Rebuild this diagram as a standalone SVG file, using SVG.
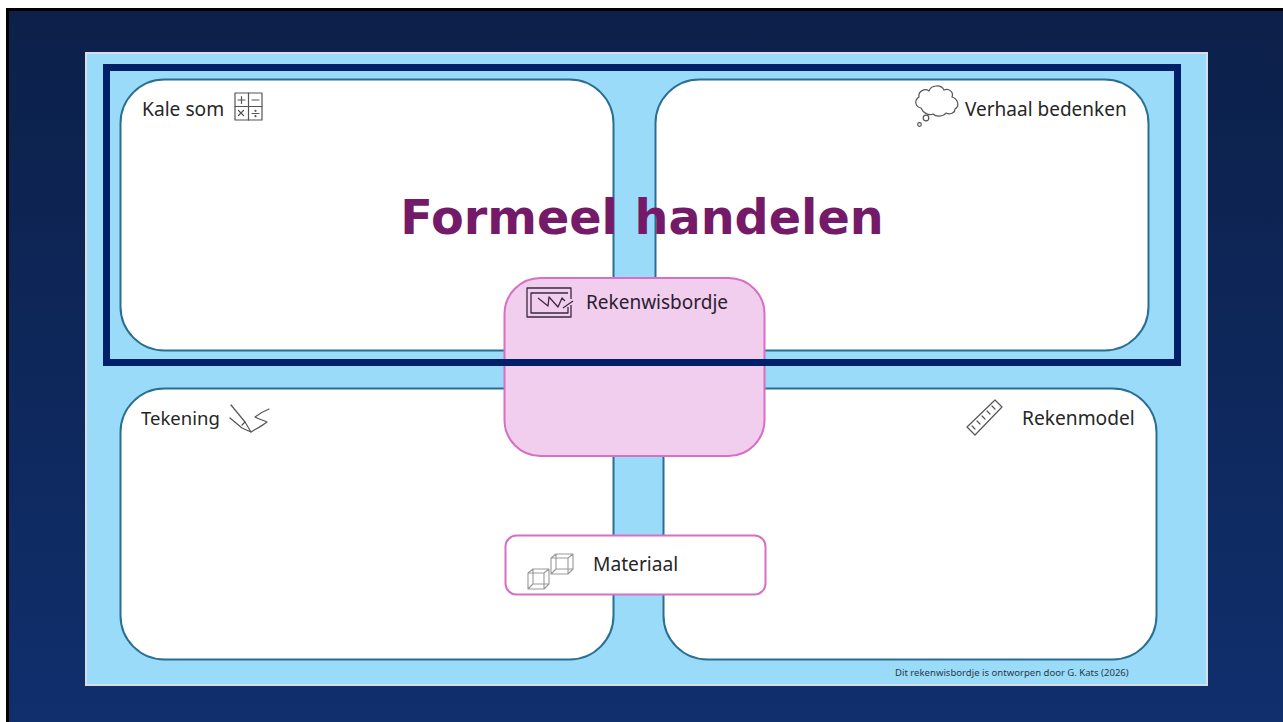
<svg xmlns="http://www.w3.org/2000/svg" width="1283" height="722" viewBox="0 0 1283 722">
<defs>
<linearGradient id="bg" x1="0" y1="0" x2="0" y2="1"><stop offset="0" stop-color="#0c2049"/><stop offset="1" stop-color="#102f6d"/></linearGradient>
</defs>
<style>
.card{fill:#fff;stroke:#2a6f92;stroke-width:2}
.pink{stroke:#d76fc4;stroke-width:2}
.lbl{font-family:"Noto Sans","Liberation Sans",sans-serif;font-size:19.200px;fill:#262626}
.ic{fill:none;stroke:#555;stroke-width:1.200;stroke-linejoin:round;stroke-linecap:round}
.ic2{fill:none;stroke:#999;stroke-width:1.100;stroke-linejoin:round}
</style>
<rect width="1283" height="722" fill="#fff"/>
<rect x="7.500" y="9.500" width="1280" height="718" fill="url(#bg)" stroke="#000" stroke-width="3"/>
<rect id="panel" x="86" y="53" width="1121" height="632" fill="#99dbf8" stroke="#d9dde8" stroke-width="2"/>
<g id="kale-som">
<rect class="card" x="120.500" y="79.500" width="493" height="271" rx="44"/>
<text class="lbl" x="142" y="116">Kale som</text>
<g class="ic"><rect x="235" y="93" width="27" height="27"/><path d="M248.500 93V120M235 106.500H262"/><path d="M238 100h7M241.500 96.500v7M252 100h7M238.500 110.500l5 5M243.500 110.500l-5 5M252 113.500h7"/><circle cx="255.500" cy="110.800" r=".5"/><circle cx="255.500" cy="116.200" r=".5"/></g>
</g>
<g id="verhaal-bedenken">
<rect class="card" x="655.500" y="79.500" width="493" height="271" rx="44"/>
<text class="lbl" x="965" y="116" style="font-size:19px">Verhaal bedenken</text>
<g class="ic"><path d="M921 108c-6-1-7-8-2-11c-1-6 6-9 10-6c2-6 12-7 15-1c5-2 10 2 8 7c6 2 8 9 3 12c0 4-5 6-9 4c-3 4-10 4-13 1c-4 2-10-1-12-6z"/><circle cx="926" cy="118" r="2.800"/><circle cx="919.500" cy="124.500" r="1.800"/></g>
</g>
<g id="tekening">
<rect class="card" x="120.500" y="388.500" width="493" height="271" rx="44"/>
<text class="lbl" x="141" y="425" style="font-size:18.500px">Tekening</text>
<g class="ic"><path d="M231 405L245 422l6 10-9-4L230 418"/><path d="M242 425l3-3M251 432c5-3 11-6 16-10c-4-2-9-3-12-5c4-3 9-6 14-8"/></g>
</g>
<g id="rekenmodel">
<rect class="card" x="663.500" y="388.500" width="493" height="271" rx="44"/>
<text class="lbl" x="1022" y="425">Rekenmodel</text>
<g class="ic"><path d="M967 427l28-27 7 7-27 28z"/><path d="M972 426l3 3M977 421l3 3M982 416l3 3M987 411l3 3M992 406l3 3"/></g>
</g>
<g id="rekenwisbordje">
<rect class="pink" x="504.500" y="278" width="260" height="178" rx="36" fill="#f1cdee"/>
</g>
<g id="materiaal">
<rect class="pink" x="505.500" y="535.500" width="260" height="59" rx="11" fill="#fff"/>
<text class="lbl" x="593" y="571">Materiaal</text>
<g class="ic2"><path d="M528 573l5-4h16v15l-5 5h-16zM528 573h16v16M544 573l5-4M533 569v15h16M533 584l-5 5"/><path d="M551 558l5-4h17v15l-5 5h-17zM551 558h17v16M568 558l5-4M556 554v15h17M556 569l-5 5"/></g>
</g>
<g id="formeel-handelen">
<rect x="106.500" y="67.500" width="1071" height="295" fill="none" stroke="#02206a" stroke-width="7"/>
<text x="642" y="234" text-anchor="middle" font-family="DejaVu Sans,Verdana,sans-serif" font-weight="700" font-size="47.700" fill="#751a68">Formeel handelen</text>
</g>
<g id="rekenwisbordje-label">
<text x="586" y="309" font-family="Noto Sans,Liberation Sans,sans-serif" font-size="19" fill="#2a2030">Rekenwisbordje</text>
<g fill="none" stroke="#3a2a40" stroke-width="1.300" stroke-linejoin="round"><path d="M571 299v-11h-44v29h44v-12"/><path d="M568 293h-37v20h37v-6"/><path d="M538 298l10 8 1-9 9 10 4-9 3 3M563 308l10-7"/></g>
</g>
<text id="credit" x="895" y="676" font-family="Noto Sans,Liberation Sans,sans-serif" font-size="9.550" fill="#2a3a48">Dit rekenwisbordje is ontworpen door G. Kats (2026)</text>
<g id="connectors"/>
</svg>
